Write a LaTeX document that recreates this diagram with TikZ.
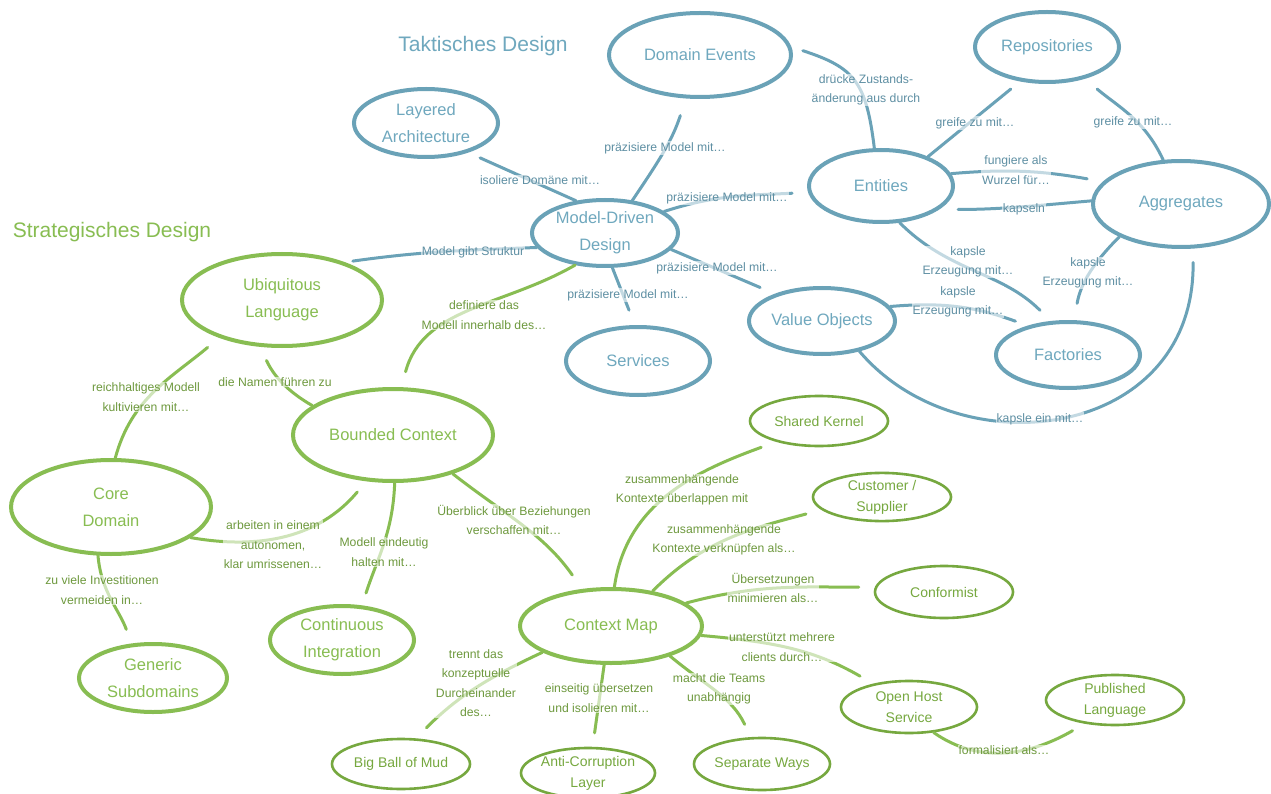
\documentclass[tikz,border=0pt]{standalone}
\usepackage{fontspec}
\setmainfont{Liberation Sans}
\usetikzlibrary{calc}
\usetikzlibrary{positioning, shapes.geometric}

\definecolor{taktik}{HTML}{6AA2B7}
\definecolor{taktiktext}{HTML}{6FA8BE}
\definecolor{taktiklabel}{HTML}{5E8FA3}
\definecolor{strategie}{HTML}{88BD52}
\definecolor{strategiedark}{HTML}{76A83F}
\definecolor{strategielabel}{HTML}{6E993E}

\tikzset{
  bigblue/.style={ellipse, draw=taktik, line width=4pt, text=taktiktext, inner sep=0pt, align=center, font=\fontsize{16.5}{27}\selectfont},
  biggreen/.style={ellipse, draw=strategie, line width=4pt, text=strategie, inner sep=0pt, align=center, font=\fontsize{16.5}{27}\selectfont},
  smallgreen/.style={ellipse, draw=strategiedark, line width=2.6pt, text=strategiedark, inner sep=0pt, align=center, font=\fontsize{14}{21}\selectfont},
  bluelink/.style={draw=taktik, line width=3pt, line cap=round},
  greenlink/.style={draw=strategie, line width=3pt, line cap=round},
  bluelabel/.style={text=taktiklabel, fill=white, fill opacity=0.6, text opacity=1, inner sep=1pt, align=center, font=\fontsize{12.2}{19.5}\selectfont},
  greenlabel/.style={text=strategielabel, fill=white, fill opacity=0.6, text opacity=1, inner sep=1pt, align=center, font=\fontsize{12.2}{19.5}\selectfont}
}

\begin{document}
\begin{tikzpicture}[x=1pt, y=-1pt]
\path [use as bounding box, fill=white] (0,0) rectangle (1271,794);

\node [text=taktiktext, font=\fontsize{21}{25}\selectfont] (taktisch) at (483,46) {Taktisches Design};
\node [text=strategie, font=\fontsize{21}{25}\selectfont] (strategisch) at (112,232) {Strategisches Design};

\node [bigblue, minimum width=182pt, minimum height=84pt] (events) at (700,55) {Domain Events};
\node [bigblue, minimum width=144pt, minimum height=68pt] (layered) at (426,123) {Layered\\Architecture};
\node [bigblue, minimum width=146pt, minimum height=66pt] (ddd) at (605,233) {Model-Driven\\Design};
\node [bigblue, minimum width=144pt, minimum height=68pt] (services) at (638,361) {Services};
\node [bigblue, minimum width=144pt, minimum height=70pt] (repos) at (1047,47) {Repositories};
\node [bigblue, minimum width=144pt, minimum height=72pt] (entities) at (881,186) {Entities};
\node [bigblue, minimum width=176pt, minimum height=86pt] (aggr) at (1181,204) {Aggregates};
\node [bigblue, minimum width=146pt, minimum height=66pt] (values) at (822,321) {Value Objects};
\node [bigblue, minimum width=144pt, minimum height=66pt] (factories) at (1068,355) {Factories};

\node [biggreen, minimum width=200pt, minimum height=92pt] (ubiq) at (282,300) {Ubiquitous\\Language};
\node [biggreen, minimum width=200pt, minimum height=94pt] (core) at (111,507) {Core\\Domain};
\node [biggreen, minimum width=200pt, minimum height=92pt] (bounded) at (393,435) {Bounded Context};
\node [biggreen, minimum width=148pt, minimum height=68pt] (generic) at (153,678) {Generic\\Subdomains};
\node [biggreen, minimum width=144pt, minimum height=68pt] (ci) at (342,640) {Continuous\\Integration};
\node [biggreen, minimum width=182pt, minimum height=74pt] (cmap) at (611,626) {Context Map};

\node [smallgreen, minimum width=138pt, minimum height=50pt] (shared) at (819,421) {Shared Kernel};
\node [smallgreen, minimum width=138pt, minimum height=48pt] (custsup) at (882,497) {Customer /\\Supplier};
\node [smallgreen, minimum width=138pt, minimum height=52pt] (conformist) at (944,592) {Conformist};
\node [smallgreen, minimum width=136pt, minimum height=52pt] (ohs) at (909,707) {Open Host\\Service};
\node [smallgreen, minimum width=138pt, minimum height=50pt] (bigball) at (401,764) {Big Ball of Mud};
\node [smallgreen, minimum width=134pt, minimum height=50pt] (acl) at (588,773) {Anti-Corruption\\Layer};
\node [smallgreen, minimum width=136pt, minimum height=52pt] (separate) at (762,764) {Separate Ways};
\node [smallgreen, minimum width=138pt, minimum height=50pt] (published) at (1115,700) {Published\\Language};

\draw [bluelink, shorten <=13pt] (layered.-35) -- (ddd.132);
\draw [bluelink, shorten <=18pt] (events.-108) to[out=-108,in=56] (ddd.50);
\draw [bluelink, shorten >=16pt] (ddd.20) to[out=18,in=183] (entities.185);
\draw [bluelink, shorten >=16pt] (ddd.-14) -- (values.150);
\draw [bluelink, shorten >=16pt] (ddd.-78) -- (services.95);
\draw [bluelink, shorten >=8pt] (ddd.192) to[out=182,in=8] (ubiq.31);
\draw [greenlink, shorten <=16pt] (bounded.80) to[out=75,in=-150] (ddd.-133);

\draw [bluelink, shorten <=12pt] (events.5) to[out=-18,in=97,looseness=1.3] (entities.100);
\draw [bluelink, shorten >=12pt] (entities.32) -- (repos.-128);
\draw [bluelink, shorten >=16pt] (aggr.112) to[out=115,in=-40] (repos.-40);
\draw [bluelink, shorten >=16pt] (entities.10) to[out=5,in=170] (aggr.164);
\draw [bluelink, shorten >=19pt] (aggr.178) to[out=185,in=0] (entities.-22);
\draw [bluelink, shorten >=15pt] (entities.-63) to[out=-45,in=135] (factories.117);
\draw [bluelink, shorten >=17pt] (aggr.-152) to[out=-135,in=80] (factories.80);
\draw [bluelink, shorten >=13pt] (values.12) to[out=5,in=160] (factories.144);
\draw [bluelink, shorten <=14pt] (aggr.-75) .. controls (1195,440) and (960,470) .. (values.-39);

\draw [greenlink, shorten <=15pt] (ubiq.-149) to[out=-140,in=75] (core.85);
\draw [greenlink, shorten <=15pt] (ubiq.-115) to[out=-65,in=150] (bounded.160);
\draw [greenlink, shorten <=14pt] (bounded.-120) to[out=-130,in=-10] (core.-21);
\draw [greenlink, shorten >=13pt] (bounded.-88) to[out=-92,in=72] (ci.60);
\draw [greenlink, shorten >=17pt] (bounded.-33) to[out=-38,in=125] (cmap.128);
\draw [greenlink, shorten >=15pt] (core.-105) to[out=-85,in=110] (generic.122);
\draw [greenlink, shorten >=15pt] (cmap.-159) to[out=-155,in=45] (bigball.60);
\draw [greenlink, shorten >=14pt] (cmap.-100) -- (acl.80);
\draw [greenlink, shorten >=14pt] (cmap.-27) to[out=-40,in=115] (separate.113);
\draw [greenlink, shorten >=15pt] (cmap.-6) to[out=-5,in=150] (ohs.147);
\draw [greenlink, shorten >=16pt] (cmap.17) to[out=15,in=180] (conformist.176);
\draw [greenlink, shorten >=16pt] (cmap.40) to[out=45,in=-165] (custsup.-168);
\draw [greenlink, shorten >=16pt] (cmap.85) to[out=82,in=-160] (shared.-154);
\draw [greenlink, shorten >=14pt] (ohs.-46) to[out=-35,in=-150] (published.-142);

\node [bluelabel] (l-isoliere) at (540,180) {isoliere Domäne mit…};
\node [bluelabel] (l-events) at (665,148) {präzisiere Model mit…};
\node [bluelabel] (l-entities) at (727,198) {präzisiere Model mit…};
\node [bluelabel] (l-values) at (717,268) {präzisiere Model mit…};
\node [bluelabel] (l-services) at (628,295) {präzisiere Model mit…};
\node [bluelabel] (l-struktur) at (473,252) {Model gibt Struktur};
\node [greenlabel] (l-definiere) at (484,315) {definiere das\\Modell innerhalb des…};
\node [bluelabel] (l-druecke) at (866,90) {drücke Zustands-\\änderung aus durch};
\node [bluelabel] (l-greife1) at (975,123) {greife zu mit…};
\node [bluelabel] (l-greife2) at (1133,122) {greife zu mit…};
\node [bluelabel] (l-wurzel) at (1016,170) {fungiere als\\Wurzel für…};
\node [bluelabel] (l-kapseln) at (1024,209) {kapseln};
\node [bluelabel] (l-kapsle1) at (968,262) {kapsle\\Erzeugung mit…};
\node [bluelabel] (l-kapsle2) at (1088,273) {kapsle\\Erzeugung mit…};
\node [bluelabel] (l-kapsle3) at (958,302) {kapsle\\Erzeugung mit…};
\node [bluelabel] (l-kapsleein) at (1040,419) {kapsle ein mit…};

\node [greenlabel] (l-reich) at (146,397) {reichhaltiges Modell\\kultivieren mit…};
\node [greenlabel] (l-namen) at (275,382) {die Namen führen zu};
\node [greenlabel] (l-arbeiten) at (273,545) {arbeiten in einem\\autonomen,\\klar umrissenen…};
\node [greenlabel] (l-eindeutig) at (384,552) {Modell eindeutig\\halten mit…};
\node [greenlabel] (l-ueberblick) at (514,520) {Überblick über Beziehungen\\verschaffen mit…};
\node [greenlabel] (l-invest) at (102,590) {zu viele Investitionen\\vermeiden in…};
\node [greenlabel] (l-trennt) at (476,683) {trennt das\\konzeptuelle\\Durcheinander\\des…};
\node [greenlabel] (l-einseitig) at (599,698) {einseitig übersetzen\\und isolieren mit…};
\node [greenlabel] (l-teams) at (719,689) {macht die Teams\\unabhängig};
\node [greenlabel] (l-clients) at (782,647) {unterstützt mehrere\\clients durch…};
\node [greenlabel] (l-minimieren) at (773,588) {Übersetzungen\\minimieren als…};
\node [greenlabel] (l-verknuepfen) at (724,540) {zusammenhängende\\Kontexte verknüpfen als…};
\node [greenlabel] (l-ueberlappen) at (682,490) {zusammenhängende\\Kontexte überlappen mit};
\node [greenlabel] (l-formal) at (1004,750) {formalisiert als…};
\end{tikzpicture}
\end{document}
